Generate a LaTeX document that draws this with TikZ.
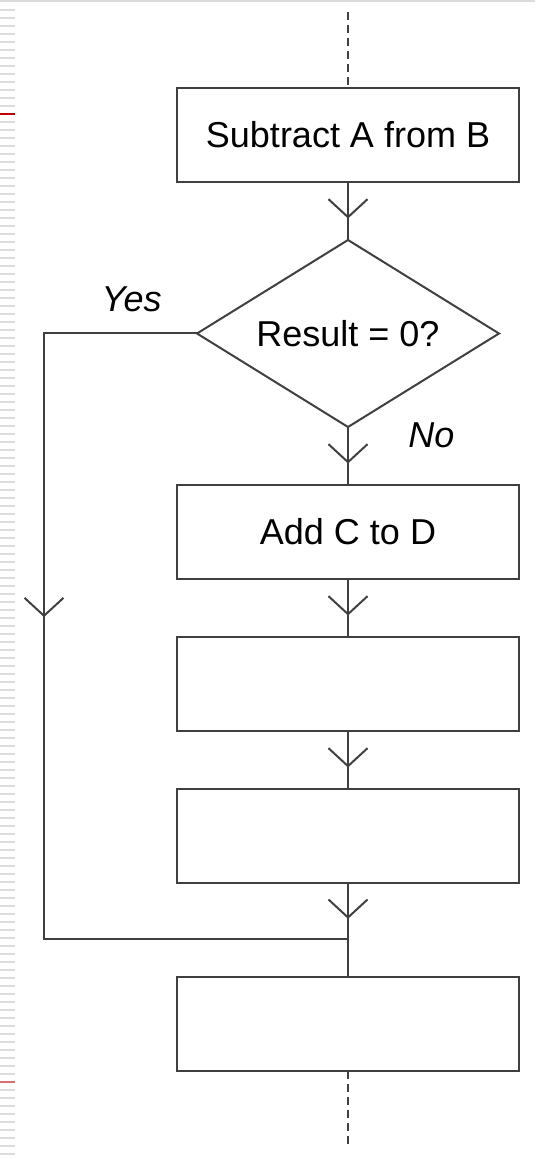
\documentclass[tikz,border=0pt]{standalone}
\usepackage{fontspec}
\setmainfont{Liberation Sans}
\usetikzlibrary{
        arrows.meta,
        decorations.markings,
        positioning,
        shapes.geometric
    }
\definecolor{linegray}{HTML}{404040}
\definecolor{stripegray}{HTML}{DCDCDC}
\definecolor{marginred}{HTML}{C00000}
\definecolor{palered}{HTML}{D87070}
\tikzset{node distance=29pt}
\tikzset{process/.style={draw=linegray,line width=1pt,outer sep=0pt,minimum width=171pt,minimum height=47pt,font=\fontsize{18}{21}\selectfont}}
\tikzset{decision/.style={draw=linegray,line width=1pt,outer sep=0pt,diamond,aspect=1.615,inner sep=0pt,minimum width=151pt,minimum height=93.5pt,font=\fontsize{18}{21}\selectfont}}
\tikzset{branch/.style={font=\fontsize{18}{21}\selectfont\itshape,inner sep=0pt}}
\tikzset{wire/.style={draw=linegray,line width=1pt}}
\tikzset{flow/.style={wire,postaction={decorate,decoration={markings,mark=at position #1 with {\arrow{Straight Barb[length=9pt,width=19.5pt]}}}}},flow/.default=0.63}
\tikzset{loose end/.style={draw=linegray,line width=0.7pt,dash pattern=on 4pt off 2.5pt}}

\begin{document}
\begin{tikzpicture}
            \useasboundingbox (0,0) rectangle (267.5pt,-579.5pt);
            % ruled margin
            \draw[stripegray,line width=1pt] (0,-0.75pt) -- (267.5pt,-0.75pt);
            \foreach \k in {0,...,143}
                \draw[stripegray,line width=1pt] (0,{-5pt-\k*4pt}) -- (7.5pt,{-5pt-\k*4pt});
            \draw[marginred,line width=1pt] (0,-57pt) -- (7.5pt,-57pt);
            \draw[palered,line width=1pt] (0,-541pt) -- (7.5pt,-541pt);

            \node[process] (sub) at (174pt,-67.5pt) {Subtract A from B};
            \node[decision] (dec) [below=of sub] {Result = 0?};
            \node[process] (add) [below=of dec] {Add C to D};
            \node[process] (stepc) [below=of add] {};
            \node[process] (stepd) [below=of stepc] {};
            \coordinate[below=28pt of stepd] (join);
            \node[process] (last) [below=47pt of stepd] {};
            \node[branch] (yes) [above left=10.5pt and 17.5pt of dec.west] {Yes};
            \node[branch] (no) [right=30pt of dec.south,yshift=-4pt] {No};

            \coordinate (entry) at (174pt,-6pt);
            \coordinate (exit) at (174pt,-574pt);
            \coordinate (rail) at (22pt,0);

            \path
                (entry) edge[loose end] (sub)
                (sub)   edge[flow] (dec)
                (dec)   edge[flow] (add)
                (add)   edge[flow] (stepc)
                (stepc) edge[flow] (stepd)
                (stepd) edge[flow=0.64] (join)
                (join)  edge[wire] (last)
                (last)  edge[loose end] (exit)
            ;
            \draw[flow=0.411] (dec.west) -- (dec.west -| rail) -- (join -| rail) -- (join);
        \end{tikzpicture}
\end{document}
